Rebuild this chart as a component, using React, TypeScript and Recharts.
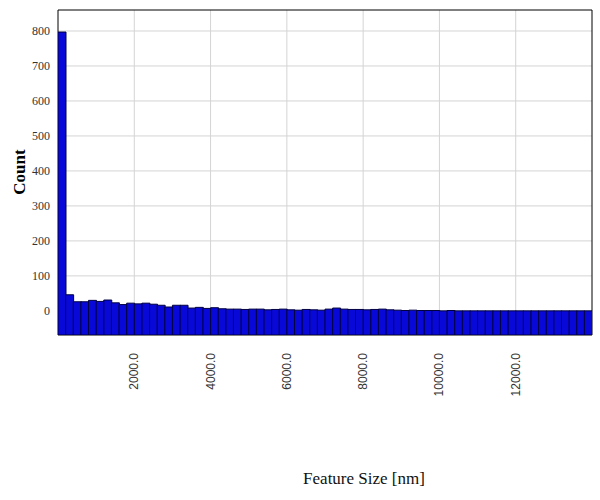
import React from 'react';
import { BarChart, Bar, XAxis, YAxis, CartesianGrid, ReferenceArea } from 'recharts';

const binWidth = 200;
const counts = [
  797, 46, 26, 26, 30, 27, 31, 23, 18, 22, 20, 22, 19, 16, 11, 16, 16, 8,
  10, 7, 9, 6, 5, 5, 4, 5, 5, 3, 4, 5, 3, 2, 4, 3, 2, 5, 8, 5, 4, 4,
  3, 4, 5, 3, 2, 1, 2, 1, 1, 1, 0, 1, 0, 0, 0, 0, 0, 0, 0, 0,
  0, 0, 0, 0, 0, 0, 0, 0, 0, 0
];
const xTicks = [2000, 4000, 6000, 8000, 10000, 12000];
const yTicks = [0, 100, 200, 300, 400, 500, 600, 700, 800];
const xDomain = [0, 14000];
const yDomain = [-69, 860];

const data = counts.map((count, i) => ({ size: i * binWidth + binWidth / 2, count }));

const XTick = (props: any) => {
  const { x, y, payload } = props;
  return (
    <text
      transform={`translate(${x + 4}, ${y + 10}) rotate(-90)`}
      textAnchor="end"
      fontFamily="'Liberation Sans', Arial, sans-serif"
      fontSize={12}
      fill="#333"
    >
      {payload.value.toFixed(1)}
    </text>
  );
};

const App = () => {
  return (
    <div style={{ position: 'absolute', left: 0, top: 0, width: 600, height: 500, background: '#fff' }}>
      <BarChart
        width={600}
        height={500}
        data={data}
        margin={{ top: 10, right: 8, left: 8, bottom: 105 }}
        barCategoryGap={0}
        barGap={0}
      >
        <CartesianGrid stroke="#d4d4d4" horizontalValues={yTicks} verticalValues={xTicks} />
        <XAxis
          dataKey="size"
          type="number"
          domain={xDomain}
          ticks={xTicks}
          height={60}
          axisLine={false}
          tickLine={false}
          tick={<XTick />}
          allowDataOverflow
        />
        <YAxis
          type="number"
          domain={yDomain}
          ticks={yTicks}
          width={50}
          axisLine={false}
          tickLine={false}
          tick={{ fontFamily: "'Liberation Serif', 'Times New Roman', serif", fontSize: 12, fill: '#333' }}
          tickMargin={2}
          allowDataOverflow
        />
        <ReferenceArea
          x1={xDomain[0]}
          x2={xDomain[1]}
          y1={yDomain[0]}
          y2={yDomain[1]}
          fill="none"
          stroke="#000"
          strokeWidth={1}
        />
        <Bar
          dataKey={(d: any) => [yDomain[0], d.count]}
          fill="#0808d8"
          stroke="#000040"
          strokeWidth={1}
          isAnimationActive={false}
        />
      </BarChart>
      <div
        style={{
          position: 'absolute',
          left: 20,
          top: 172,
          transform: 'translate(-50%, -50%) rotate(-90deg)',
          fontFamily: "'Liberation Serif', 'Times New Roman', serif",
          fontWeight: 'bold',
          fontSize: 17,
          color: '#000',
          whiteSpace: 'nowrap',
        }}
      >
        Count
      </div>
      <div
        style={{
          position: 'absolute',
          left: 364,
          top: 479,
          transform: 'translate(-50%, -50%)',
          fontFamily: "'Liberation Serif', 'Times New Roman', serif",
          fontSize: 17,
          color: '#111',
          whiteSpace: 'nowrap',
        }}
      >
        Feature Size [nm]
      </div>
    </div>
  );
};

export default App;
